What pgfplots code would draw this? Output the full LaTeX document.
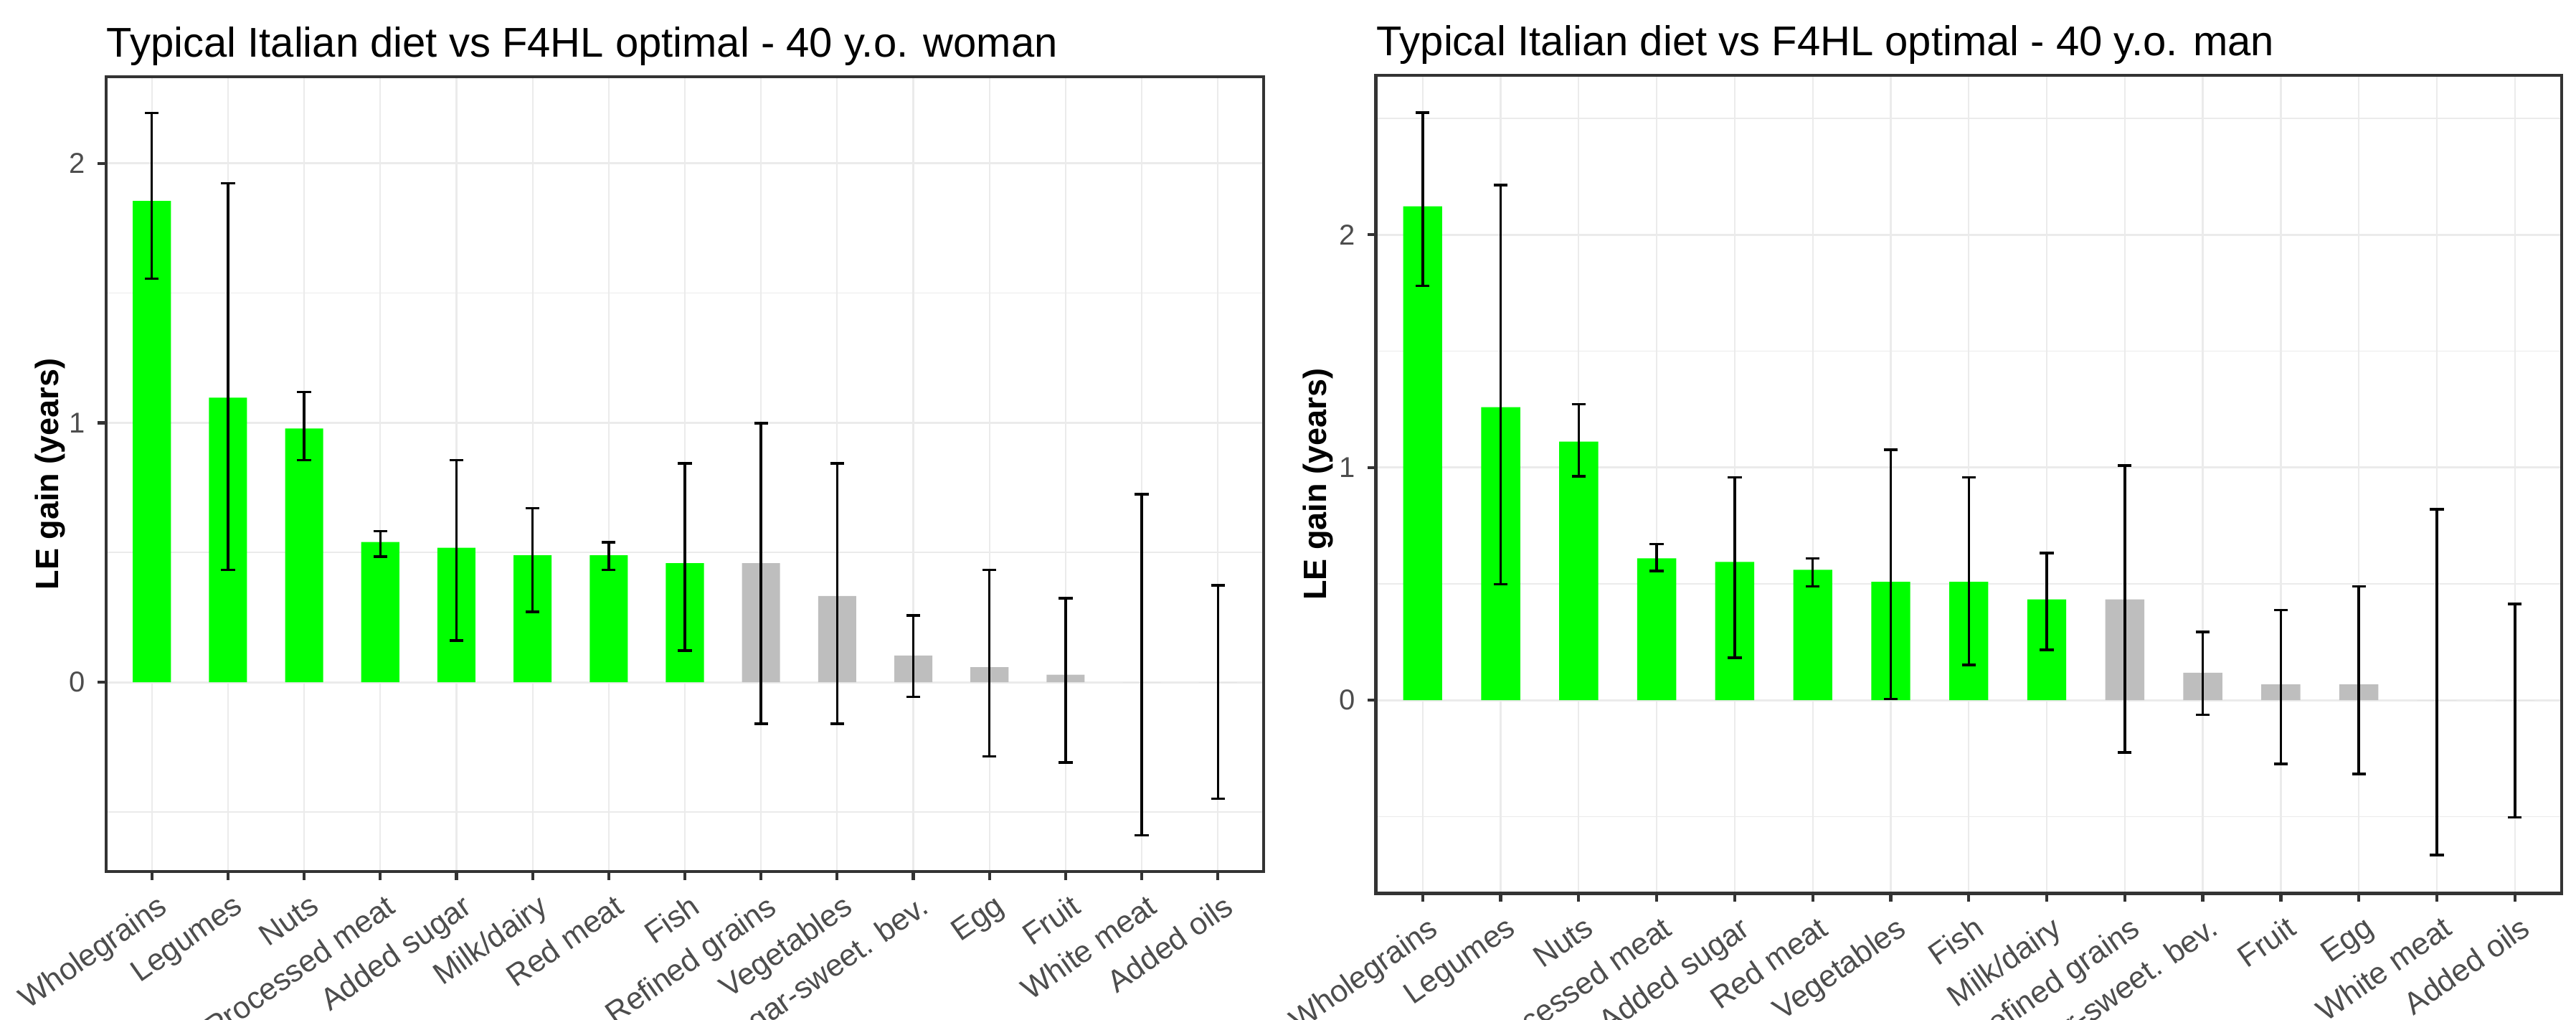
\documentclass[border=0pt]{standalone}
\usepackage{fontspec}
\setmainfont{Liberation Sans}
\usepackage{pgfplots}
\pgfplotsset{compat=1.18}
\usepackage{pgfplotstable}
\definecolor{barg}{HTML}{00FF00}
\definecolor{barx}{HTML}{BEBEBE}
\definecolor{gridc}{HTML}{EBEBEB}
\definecolor{g20}{HTML}{333333}
\definecolor{g30}{HTML}{4D4D4D}

% woman: x y ep em
\pgfplotstableread{
x y ep em
1 1.855 0.340 0.299
2 1.097 0.827 0.664
3 0.978 0.141 0.122
4 0.540 0.042 0.056
5 0.518 0.338 0.358
6 0.489 0.182 0.218
7 0.489 0.050 0.056
8 0.459 0.384 0.337
}\wgreen
\pgfplotstableread{
x y ep em
9 0.459 0.539 0.619
10 0.332 0.511 0.492
11 0.103 0.154 0.159
12 0.058 0.375 0.344
13 0.029 0.294 0.338
14 0.000 0.725 0.590
15 0.000 0.374 0.450
}\wgray
% man
\pgfplotstableread{
x y ep em
1 2.122 0.403 0.341
2 1.259 0.955 0.761
3 1.111 0.161 0.149
4 0.610 0.061 0.054
5 0.594 0.363 0.411
6 0.560 0.050 0.071
7 0.509 0.567 0.504
8 0.509 0.448 0.358
9 0.433 0.199 0.216
}\mgreen
\pgfplotstableread{
x y ep em
10 0.433 0.575 0.658
11 0.118 0.176 0.180
12 0.068 0.319 0.342
13 0.068 0.421 0.385
14 0.000 0.821 0.665
15 0.000 0.413 0.504
}\mgray

\pgfplotsset{
  every axis title shift=0pt,
  panel/.style={
    scale only axis,
    xmin=0.4, xmax=15.6,
    xtick={1,...,15},
    ytick={0,1,2},
    axis line style={g20, line width=0.85pt},
    xmajorgrids, ymajorgrids, yminorgrids,
    major grid style={gridc, line width=0.6pt},
    minor grid style={gridc, line width=0.35pt},
    major x grid style={gridc, line width=0.45pt},
    tick style={g20, line width=0.85pt},
    tick align=outside, major tick length=2.3pt, minor tick length=0pt,
    xtick pos=bottom, ytick pos=left,
    ticklabel style={g30},
    yticklabel style={font=\fontsize{8}{9}\selectfont},
    xticklabel style={font=\fontsize{8.6}{10}\selectfont, rotate=35, anchor=north east, inner sep=1pt, yshift=-2.5pt},
    /pgf/number format/assume math mode=true,
    ylabel={LE gain (years)},
    ylabel style={font=\bfseries\fontsize{9}{10}\selectfont, at={(axis description cs:0,0.5)}, anchor=center},
    title style={at={(axis description cs:0,1)}, anchor=base west, yshift=5.4pt, inner sep=0pt, font=\fontsize{11.6}{13}\selectfont},
  },
  gbar/.style={ybar, bar width=0.5, bar shift=0pt, draw=none, fill=#1,
    error bars/.cd, y dir=both, y explicit, error mark=|,
    error bar style={draw=black, line width=0.7pt},
    error mark options={draw=black, line width=0.7pt, mark size=1.93pt}},
}

\begin{document}
\begin{tikzpicture}
\path[use as bounding box] (0,0) rectangle (718.4pt,284.2pt);
\begin{axis}[panel,
  at={(29.6pt,262.8pt)}, anchor=north west,
  width=322.8pt, height=221.6pt,
  ymin=-0.73, ymax=2.334,
  minor ytick={-0.5,0.5,1.5},
  ylabel style={yshift=15.6pt},
  title={Typical Italian diet vs F4HL optimal - 40 y.o. woman},
  xticklabels={Wholegrains,Legumes,Nuts,Processed meat,Added sugar,Milk/dairy,Red meat,Fish,Refined grains,Vegetables,Sugar-sweet. bev.,Egg,Fruit,White meat,Added oils},
]
\addplot[gbar=barg] table[x=x,y=y,y error plus=ep,y error minus=em] {\wgreen};
\addplot[gbar=barx] table[x=x,y=y,y error plus=ep,y error minus=em] {\wgray};
\end{axis}
\begin{axis}[panel,
  at={(383.7pt,263.2pt)}, anchor=north west,
  width=330.7pt, height=228.1pt,
  ymin=-0.83, ymax=2.685,
  minor ytick={-0.5,0.5,1.5,2.5},
  ylabel style={yshift=16.2pt},
  title={Typical Italian diet vs F4HL optimal - 40 y.o. man},
  xticklabels={Wholegrains,Legumes,Nuts,Processed meat,Added sugar,Red meat,Vegetables,Fish,Milk/dairy,Refined grains,Sugar-sweet. bev.,Fruit,Egg,White meat,Added oils},
]
\addplot[gbar=barg] table[x=x,y=y,y error plus=ep,y error minus=em] {\mgreen};
\addplot[gbar=barx] table[x=x,y=y,y error plus=ep,y error minus=em] {\mgray};
\end{axis}
\end{tikzpicture}
\end{document}
